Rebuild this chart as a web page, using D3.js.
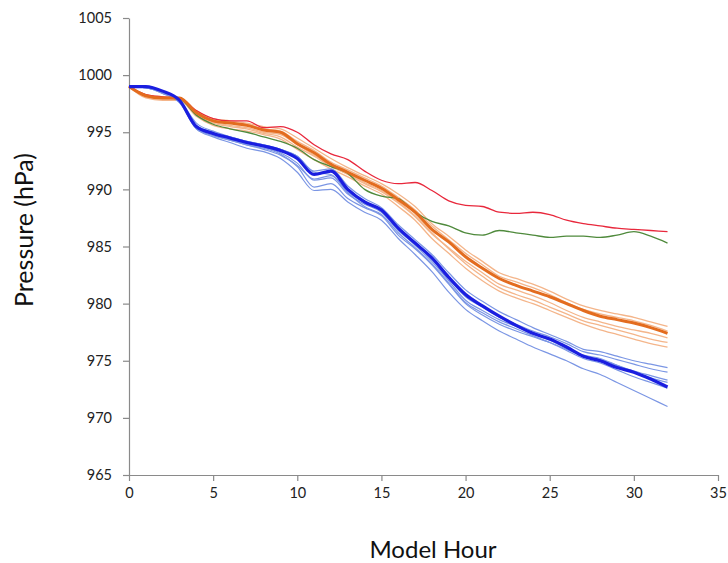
<!DOCTYPE html>
<html>
<head>
<meta charset="utf-8">
<script src="https://cdn.jsdelivr.net/npm/d3@7"></script>
<style>
  body { margin: 0; background: #fff; }
  svg { font-family: Lato, "Open Sans", sans-serif; }
  .axis text { font-family: Lato, "Open Sans", sans-serif; font-size: 14.5px; fill: #222; }
</style>
</head>
<body>
<script>
// hours 0..32
var hours = d3.range(0, 33);

// main runs
var redRun   = [999.0,998.3,998.1,998.0,996.9,996.2,996.0,996.0,995.4,995.5,995.0,993.9,993.1,992.6,991.6,990.8,990.5,990.6,989.9,989.0,988.6,988.5,988.0,987.9,988.0,987.8,987.3,987.0,986.8,986.6,986.5,986.4,986.3];
var greenRun = [999.0,998.2,998.0,997.9,996.5,995.7,995.3,995.0,994.6,994.2,993.6,992.6,992.0,991.4,990.0,989.4,989.2,988.0,987.2,986.8,986.2,986.0,986.4,986.2,986.0,985.8,985.9,985.9,985.8,986.0,986.3,985.9,985.3];
var orangeMean = [999.0,998.2,998.0,998.0,996.7,996.0,995.8,995.6,995.2,995.0,994.0,993.2,992.2,991.5,990.8,990.1,989.1,988.0,986.5,985.4,984.1,983.1,982.2,981.6,981.1,980.6,980.0,979.4,978.9,978.6,978.3,977.9,977.4];
var blueMean = [999.0,999.0,998.6,997.8,995.5,994.9,994.5,994.1,993.8,993.4,992.7,991.3,991.6,990.0,988.9,988.2,986.6,985.3,984.0,982.3,980.8,979.8,978.9,978.1,977.4,976.9,976.2,975.4,975.0,974.4,974.0,973.4,972.7];

// ensemble members
var orangeMembers = [
  [999.0,998.3,998.1,998.0,996.9,996.2,996.0,995.8,995.5,995.3,994.5,993.6,992.7,991.9,991.2,990.5,989.6,988.5,987.0,985.9,984.7,983.7,982.7,982.2,981.7,981.1,980.4,979.8,979.4,979.1,978.8,978.4,978.0],
  [999.0,998.1,997.9,997.9,996.5,995.8,995.5,995.3,994.9,994.6,993.7,992.9,992.0,991.3,990.5,989.8,988.8,987.6,986.1,984.9,983.7,982.7,981.7,981.2,980.7,980.1,979.4,978.8,978.4,978.0,977.7,977.4,977.0],
  [999.0,998.2,998.0,997.9,996.6,995.9,995.6,995.4,995.0,994.8,993.9,993.0,992.1,991.4,990.6,989.9,988.9,987.7,986.2,984.8,983.5,982.4,981.4,980.8,980.3,979.7,979.1,978.5,978.1,977.7,977.3,976.9,976.6],
  [999.0,998.0,997.8,997.8,996.4,995.6,995.3,995.1,994.8,994.4,993.5,992.6,991.8,991.1,990.3,989.6,988.5,987.3,985.7,984.4,983.1,982.0,981.1,980.5,980.0,979.4,978.8,978.2,977.7,977.3,976.9,976.5,976.2],
  [999.0,998.2,998.0,998.0,996.8,996.1,995.9,995.7,995.3,995.1,994.2,993.4,992.4,991.7,991.0,990.3,989.3,988.2,986.8,985.6,984.4,983.4,982.4,981.9,981.4,980.8,980.1,979.5,979.1,978.8,978.5,978.1,977.6]
];
var blueMembers = [
  [999.0,998.9,998.5,997.8,995.8,995.1,994.6,994.2,993.9,993.5,992.9,991.6,991.8,990.3,989.2,988.4,986.9,985.6,984.3,982.7,981.2,980.2,979.3,978.6,977.9,977.3,976.7,976.0,975.8,975.4,975.0,974.7,974.4],
  [999.0,998.9,998.4,997.6,995.6,995.0,994.4,994.0,993.7,993.2,992.3,990.8,991.0,989.6,988.7,988.0,986.4,985.2,983.9,982.2,980.6,979.7,978.8,978.2,977.6,977.1,976.5,975.8,975.5,975.1,974.7,974.3,974.0],
  [999.0,998.9,998.5,997.7,995.4,994.8,994.3,993.9,993.6,993.1,992.0,990.2,990.5,989.2,988.4,987.7,986.0,984.8,983.4,981.7,980.0,979.0,978.2,977.6,977.1,976.6,976.0,975.4,975.1,974.6,974.1,973.7,973.3],
  [999.0,998.9,998.6,997.8,995.5,994.9,994.6,994.2,993.9,993.5,992.9,991.5,991.3,989.8,988.8,988.1,986.5,985.1,983.7,982.0,980.3,979.4,978.6,978.0,977.4,976.8,976.1,975.5,975.2,974.6,974.0,973.5,973.1],
  [999.0,998.9,998.5,997.7,995.3,994.7,994.3,993.9,993.5,993.0,992.1,990.9,991.2,989.7,988.5,987.8,986.2,984.9,983.5,981.8,980.1,979.2,978.4,977.8,977.2,976.6,975.9,975.2,974.8,974.2,973.6,973.1,972.6],
  [999.0,998.9,998.4,997.6,995.3,994.6,994.1,993.6,993.3,992.7,991.5,989.9,990.0,988.9,988.0,987.3,985.7,984.3,982.8,981.0,979.5,978.5,977.6,976.9,976.2,975.6,975.0,974.3,973.8,973.1,972.4,971.7,971.0]
];

var xTicks = [0, 5, 10, 15, 20, 25, 30, 35];
var yTicks = [965, 970, 975, 980, 985, 990, 995, 1000, 1005];

var w = 728, h = 563;
const margin = {top: 18, right: 10, bottom: 88, left: 129};

const svg = d3.select("body").append("svg")
    .attr("width", w)
    .attr("height", h);

var x = d3.scaleLinear().domain([0, 35]).range([margin.left, 718]);
var y = d3.scaleLinear().domain([965, 1005]).range([475, margin.top]);

var line = d3.line()
    .x(function(d, i) { return x(hours[i]); })
    .y(function(d) { return y(d); })
    .curve(d3.curveMonotoneX);

// axes
var yAxis = svg.append("g")
    .attr("class", "axis")
    .attr("transform", "translate(" + x(0) + ",0)")
    .call(d3.axisLeft(y).tickValues(yTicks).tickFormat(d3.format("d"))
        .tickSize(6).tickPadding(11).tickSizeOuter(0));
var xAxis = svg.append("g")
    .attr("class", "axis")
    .attr("transform", "translate(0," + y(965) + ")")
    .call(d3.axisBottom(x).tickValues(xTicks).tickFormat(d3.format("d"))
        .tickSize(6).tickPadding(7).tickSizeOuter(0));

[xAxis, yAxis].forEach(function(a) {
    a.attr("font-size", null).attr("font-family", null);
    a.select(".domain").attr("stroke", "#8a8a8a").attr("stroke-width", 1.2);
    a.selectAll(".tick line").attr("stroke", "#8a8a8a").attr("stroke-width", 1.2);
});

// members
svg.selectAll(".orangeMember")
    .data(orangeMembers).enter()
    .append("path")
    .attr("class", "orangeMember")
    .attr("d", line)
    .style("fill", "none")
    .style("stroke", "#f4b58a")
    .style("stroke-width", 1.3);

svg.selectAll(".blueMember")
    .data(blueMembers).enter()
    .append("path")
    .attr("class", "blueMember")
    .attr("d", line)
    .style("fill", "none")
    .style("stroke", "#7b96e4")
    .style("stroke-width", 1.2);

// red and green runs
svg.append("path").datum(greenRun)
    .attr("d", line)
    .style("fill", "none")
    .style("stroke", "#4f8a3c")
    .style("stroke-width", 1.3);

svg.append("path").datum(redRun)
    .attr("d", line)
    .style("fill", "none")
    .style("stroke", "#e8283c")
    .style("stroke-width", 1.3);

// means
svg.append("path").datum(orangeMean)
    .attr("d", line)
    .style("fill", "none")
    .style("stroke", "#e36c1f")
    .style("stroke-width", 3);

svg.append("path").datum(blueMean)
    .attr("d", line)
    .style("fill", "none")
    .style("stroke", "#1a1ee0")
    .style("stroke-width", 3.2);

// axis titles
svg.append("text")
    .attr("x", 433)
    .attr("y", 558)
    .attr("text-anchor", "middle")
    .style("font-size", "24px")
    .style("fill", "#111")
    .text("Model Hour");

svg.append("text")
    .attr("transform", "translate(33,230) rotate(-90)")
    .attr("text-anchor", "middle")
    .style("font-size", "25px")
    .style("fill", "#111")
    .text("Pressure (hPa)");
</script>
</body>
</html>
